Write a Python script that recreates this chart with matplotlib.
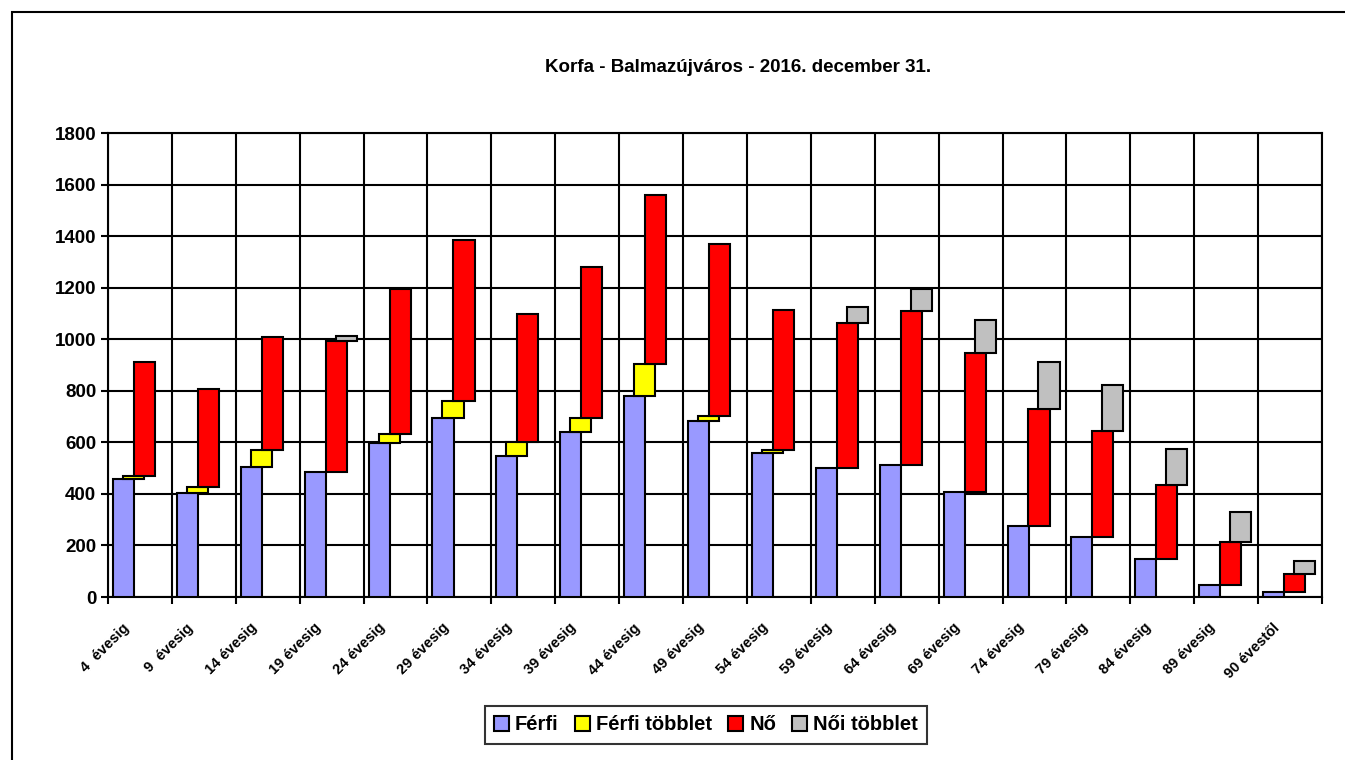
import matplotlib.pyplot as plt
import numpy as np
from matplotlib.patches import Rectangle
from matplotlib.transforms import ScaledTranslation

plt.rcParams['font.family'] = ['Liberation Sans', 'DejaVu Sans']
plt.rcParams['font.weight'] = 'bold'

categories = ['4  évesig', '9  évesig', '14 évesig', '19 évesig', '24 évesig',
              '29 évesig', '34 évesig', '39 évesig', '44 évesig', '49 évesig',
              '54 évesig', '59 évesig', '64 évesig', '69 évesig', '74 évesig',
              '79 évesig', '84 évesig', '89 évesig', '90 évestől']

ferfi = [456, 403, 505, 486, 598, 693, 548, 640, 780, 684,
         557, 502, 512, 408, 274, 232, 148, 48, 21]
ferfi_tobblet = [12, 24, 64, 0, 35, 68, 54, 55, 125, 17,
                 15, 0, 0, 0, 0, 0, 0, 0, 0]
no = [444, 379, 441, 507, 563, 625, 494, 585, 655, 667,
      542, 562, 598, 537, 456, 412, 288, 165, 69]
noi_tobblet = [0, 0, 0, 21, 0, 0, 0, 0, 0, 0,
               0, 60, 86, 129, 182, 180, 140, 117, 48]

fig = plt.figure(figsize=(13.45, 7.6), dpi=100)
ax = fig.add_axes([108 / 1345, 1 - 597 / 760, 1214 / 1345, 464 / 760])

# frame round the whole chart area (right and bottom edges fall outside the image)
fig.patches.append(Rectangle((12 / 1345, -0.1), 1.2, 1.1 - 12 / 760, transform=fig.transFigure,
                             fill=False, edgecolor='black', linewidth=1.5, clip_on=False))

x = np.arange(len(categories))
w = 0.33
f = np.array(ferfi)
ft = np.array(ferfi_tobblet)
n = np.array(no)
nt = np.array(noi_tobblet)

kw = dict(width=w, align='edge', edgecolor='black', linewidth=1.5, zorder=3)
ax.bar(x + 0.078, f, color='#9999FF', label='Férfi', **kw)
m = ft > 0
ax.bar(x[m] + 0.234, ft[m], bottom=f[m], color='#FFFF00', label='Férfi többlet', **kw)
ax.bar(x + 0.406, n, bottom=f + ft, color='#FF0000', label='Nő', **kw)
m = nt > 0
ax.bar(x[m] + 0.563, nt[m], bottom=(f + ft + n)[m], color='#C0C0C0', label='Női többlet', **kw)

ax.set_xlim(0, len(categories))
ax.set_ylim(0, 1800)
ax.set_yticks(range(0, 1801, 200))
ax.set_xticks(range(len(categories) + 1))
ax.set_xticklabels([])
ax.set_xticks(x + 0.5, minor=True)
ax.set_xticklabels(categories, minor=True, rotation=45, ha='right', fontsize=10.5, fontweight='bold')
ax.tick_params(axis='x', which='minor', length=0, pad=17)
ax.tick_params(axis='both', which='major', direction='out', length=5, width=1.5, labelsize=13.5)
off = ScaledTranslation(-8 / 100, 0, fig.dpi_scale_trans)
for lab in ax.get_xticklabels(minor=True):
    lab.set_transform(lab.get_transform() + off)
ax.grid(True, which='major', color='black', linewidth=1.5, zorder=0)
ax.set_axisbelow(True)
for s in ax.spines.values():
    s.set_linewidth(1.5)

fig.text(738 / 1345, 1 - 67 / 760, 'Korfa - Balmazújváros - 2016. december 31.',
         ha='center', va='center', fontsize=13.5, fontweight='bold')

leg = fig.legend(loc='center', bbox_to_anchor=(706 / 1345, 1 - 725 / 760), ncol=4,
                 fontsize=14.5, frameon=True, fancybox=False, edgecolor='black',
                 handlelength=0.75, handleheight=0.75, handletextpad=0.3, columnspacing=0.8,
                 borderpad=0.45)
leg.get_frame().set_linewidth(1.5)

fig.savefig('out.png', dpi=100)
